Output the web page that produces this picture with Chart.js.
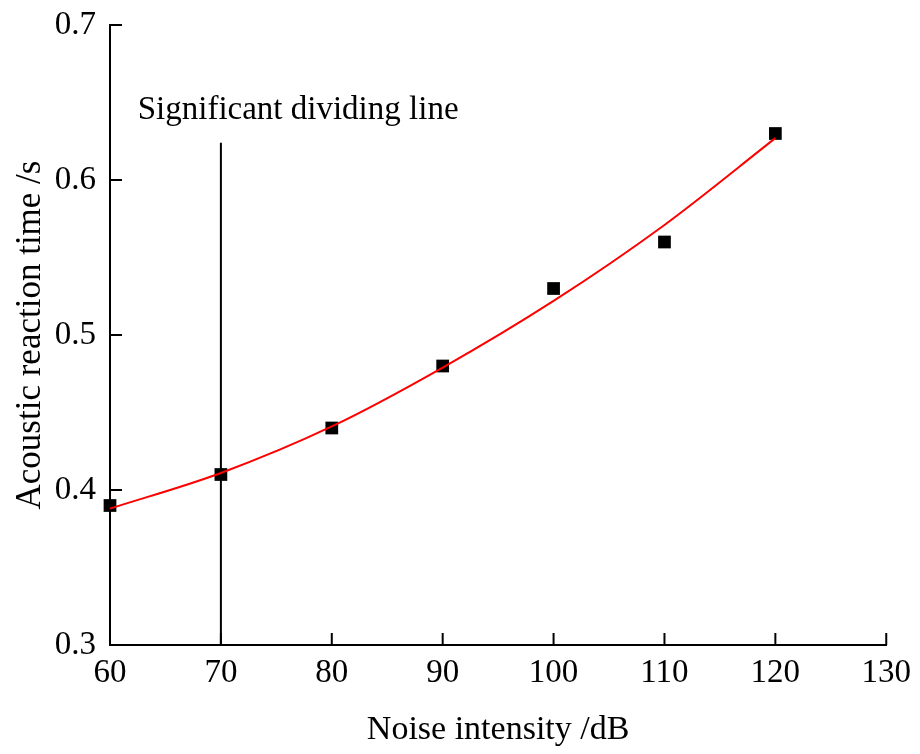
<!DOCTYPE html>
<html>
<head>
<meta charset="utf-8">
<script src="https://cdn.jsdelivr.net/npm/chart.js@4/dist/chart.umd.min.js"></script>
<style>
html,body{margin:0;padding:0;background:#fff;}
#wrap{width:920px;height:754px;}
</style>
</head>
<body>
<div id="wrap"><canvas id="noiseChart" width="920" height="754"></canvas></div>
<script>

// measured reaction times
const noiseDb = [60, 70, 80, 90, 100, 110, 120];
const reactionTime = [0.39, 0.41, 0.44, 0.48, 0.53, 0.56, 0.63];

// fitted curve
const fitCurve = [0.388, 0.411, 0.441, 0.479, 0.522, 0.571, 0.627];

// significant dividing line
const dividerX = [70, 70];
const dividerY = [0.3, 0.624];
const dividerLabel = "Significant dividing line";

const xMin = 60, xMax = 130, xStep = 10;
const yMin = 0.3, yMax = 0.7, yStep = 0.1;

const serif = "'Liberation Serif', 'Times New Roman', serif";

// ticks drawn pointing into the plot, plus the label over the divider
const innerTicks = {
id: "innerTicks",
afterDraw(c){

const ctx = c.ctx;
const xs = c.scales.x;
const ys = c.scales.y;
const area = c.chartArea;

ctx.save();
ctx.strokeStyle = "#000";
ctx.lineWidth = 2;

xs.ticks.forEach(t => {
const px = xs.getPixelForValue(t.value);
ctx.beginPath();
ctx.moveTo(px, area.bottom);
ctx.lineTo(px, area.bottom - 12);
ctx.stroke();
});

ys.ticks.forEach(t => {
const py = ys.getPixelForValue(t.value);
ctx.beginPath();
ctx.moveTo(area.left, py);
ctx.lineTo(area.left + 12, py);
ctx.stroke();
});

ctx.fillStyle = "#000";
ctx.font = "33px " + serif;
ctx.textBaseline = "middle";
ctx.textAlign = "left";
ctx.fillText(dividerLabel, xs.getPixelForValue(62.5), ys.getPixelForValue(0.645));

ctx.restore();

}
};

const ctx = document.getElementById("noiseChart");

new Chart(ctx, {

type: "scatter",

data: {
datasets: [
{
label: "Fit",
data: noiseDb.map((x, i) => ({x: x, y: fitCurve[i]})),
showLine: true,
borderColor: "#ff0000",
borderWidth: 2,
pointRadius: 0,
cubicInterpolationMode: "monotone",
clip: false,
order: 0
},
{
label: "Reaction time",
data: noiseDb.map((x, i) => ({x: x, y: reactionTime[i]})),
pointStyle: "rect",
pointRadius: 9,
backgroundColor: "#000",
borderColor: "#000",
borderWidth: 0,
clip: false,
order: 1
},
{
label: "Divider",
data: dividerX.map((x, i) => ({x: x, y: dividerY[i]})),
showLine: true,
borderColor: "#000",
borderWidth: 2,
pointRadius: 0,
order: 2
}
]
},

options: {
responsive: false,
animation: false,
layout: {
padding: {left: 0, right: 32, top: 25, bottom: 0}
},
plugins: {
legend: {display: false},
tooltip: {enabled: false}
},
scales: {
x: {
type: "linear",
min: xMin,
max: xMax,
afterFit(s){ s.height = 109; },
ticks: {
stepSize: xStep,
color: "#000",
padding: 9,
font: {family: serif, size: 33}
},
grid: {display: true, drawOnChartArea: false, drawTicks: false},
border: {display: true, color: "#000", width: 2},
title: {
display: true,
text: "Noise intensity /dB",
color: "#000",
font: {family: serif, size: 34},
padding: {top: 0, bottom: 4}
}
},
y: {
type: "linear",
min: yMin,
max: yMax,
afterFit(s){ s.width = 110; },
ticks: {
stepSize: yStep,
color: "#000",
padding: 5,
font: {family: serif, size: 33},
callback: v => v.toFixed(1)
},
grid: {
display: true,
drawOnChartArea: false,
drawTicks: true,
tickLength: 9,
tickColor: "rgba(0,0,0,0)"
},
border: {display: true, color: "#000", width: 2},
title: {
display: true,
text: "Acoustic reaction time /s",
color: "#000",
font: {family: serif, size: 35},
padding: {top: 10, bottom: 0}
}
}
}
},

plugins: [innerTicks]

});

</script>
</body>
</html>
